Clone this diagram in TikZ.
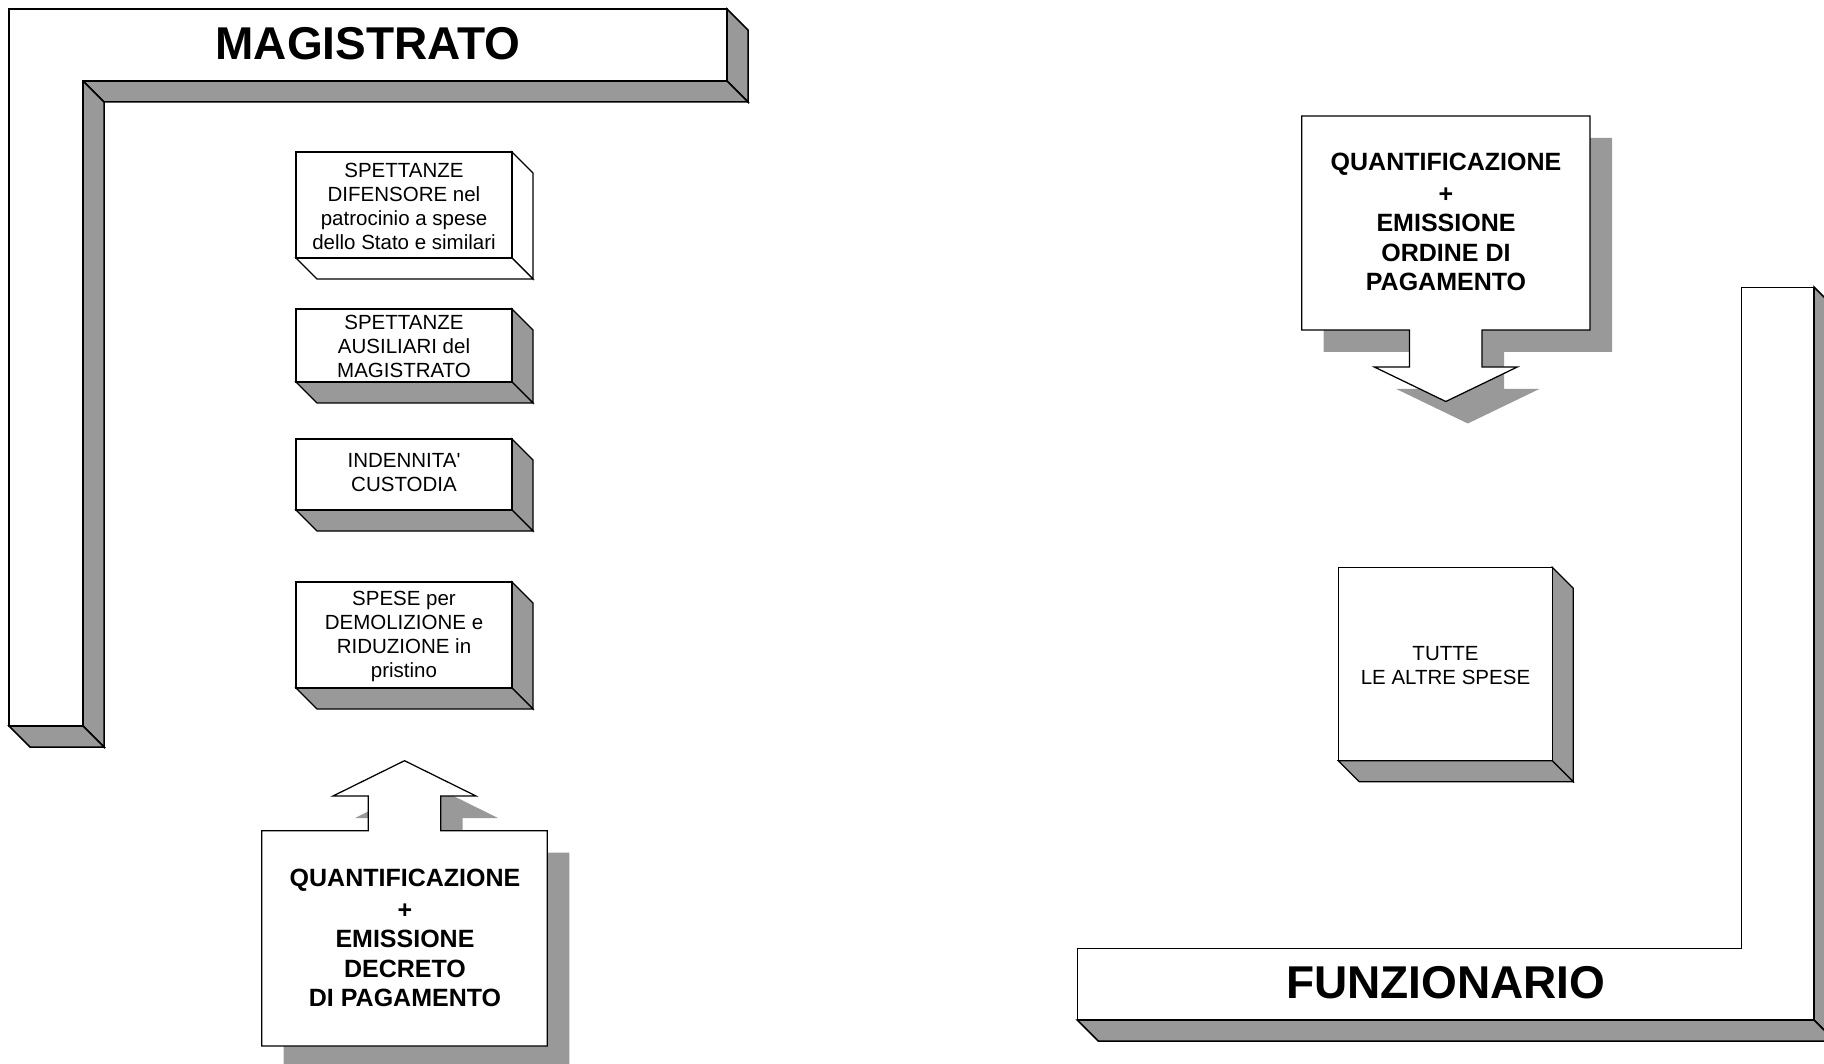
\documentclass[tikz,border=0pt]{standalone}
\usepackage{fontspec}
\setmainfont{Liberation Sans}
% same face without TeX ligature mapping, so ' stays a straight apostrophe
\newfontfamily\rawsans{Liberation Sans}
\definecolor{slabgray}{RGB}{153,153,153}

\tikzset{
  baredge/.style={draw=black, line width=1.5pt, line join=miter},
  boxedge/.style={draw=black, line width=1.25pt, line join=miter},
  boxlabel/.style={align=center, inner sep=0pt, font=\fontsize{20.5}{24}\selectfont},
  calloutlabel/.style={align=center, inner sep=0pt, font=\bfseries\fontsize{25}{29.5}\selectfont},
  titlelabel/.style={inner sep=0pt, font=\bfseries\fontsize{46}{54}\selectfont},
  dropshadow/.style={fill=slabgray, shift={(22,22)}},
}

% 3-D slab: front face (#1,#2)-(#3,#4), depth 21, side faces filled with #5
\newcommand\slabbox[5]{%
  \filldraw[boxedge, fill=#5] (#3,#2) -- (#3+21,#2+21) -- (#3+21,#4+21) -- (#3,#4) -- cycle;
  \filldraw[boxedge, fill=#5] (#1,#4) -- (#3,#4) -- (#3+21,#4+21) -- (#1+21,#4+21) -- cycle;
  \filldraw[boxedge, fill=white] (#1,#2) rectangle (#3,#4);
}

\begin{document}
\begin{tikzpicture}[x=1pt, y=-1pt]
  \useasboundingbox (0,0) rectangle (1824,1064);
  \fill[white] (0,0) rectangle (1824,1064);

  % ---------- MAGISTRATO bracket (top left) ----------
  \filldraw[baredge, fill=slabgray] (727,9) -- (748,30) -- (748,102) -- (727,81) -- cycle;
  \filldraw[baredge, fill=slabgray] (83,81) -- (727,81) -- (748,102) -- (104,102) -- cycle;
  \filldraw[baredge, fill=slabgray] (83,81) -- (104,102) -- (104,747) -- (83,726) -- cycle;
  \filldraw[baredge, fill=slabgray] (9,726) -- (83,726) -- (104,747) -- (30,747) -- cycle;
  \filldraw[baredge, fill=white] (9,9) -- (727,9) -- (727,81) -- (83,81) -- (83,726) -- (9,726) -- cycle;
  \node[titlelabel] (magistrato) at (368,44) {MAGISTRATO};

  % ---------- expense slabs handled by the magistrate ----------
  \slabbox{296}{152}{512}{258}{white}
  \node[boxlabel] (difensore) at (404,206.5) {SPETTANZE\\DIFENSORE nel\\patrocinio a spese\\dello Stato e similari};

  \slabbox{296}{309}{512}{382}{slabgray}
  \node[boxlabel] (ausiliari) at (404,346) {SPETTANZE\\AUSILIARI del\\MAGISTRATO};

  \slabbox{296}{439}{512}{510}{slabgray}
  \node[boxlabel] (custodia) at (404,473) {{\rawsans INDENNITA'}\\CUSTODIA};

  \slabbox{296}{582}{512}{688}{slabgray}
  \node[boxlabel] (demolizione) at (404,636) {SPESE per\\DEMOLIZIONE e\\RIDUZIONE in\\pristino};

  % ---------- decree callout with up arrow (bottom left) ----------
  \fill[dropshadow] (261.7,830.7) -- (368.3,830.7) -- (368.3,796) -- (333,796) -- (404.5,760.7)
    -- (476,796) -- (440.7,796) -- (440.7,830.7) -- (547.3,830.7) -- (547.3,1046) -- (261.7,1046) -- cycle;
  \filldraw[boxedge, fill=white] (261.7,830.7) -- (368.3,830.7) -- (368.3,796) -- (333,796) -- (404.5,760.7)
    -- (476,796) -- (440.7,796) -- (440.7,830.7) -- (547.3,830.7) -- (547.3,1046) -- (261.7,1046) -- cycle;
  \node[calloutlabel] (decreto) at (405,938) {QUANTIFICAZIONE\\[2.5pt]+\\EMISSIONE\\DECRETO\\DI PAGAMENTO};

  % ---------- payment order callout with down arrow (top right) ----------
  \fill[dropshadow] (1301.7,116) -- (1590,116) -- (1590,330) -- (1482,330) -- (1482,367)
    -- (1517.3,367) -- (1445.8,401.5) -- (1374.3,367) -- (1409.5,367) -- (1409.5,330) -- (1301.7,330) -- cycle;
  \filldraw[boxedge, fill=white] (1301.7,116) -- (1590,116) -- (1590,330) -- (1482,330) -- (1482,367)
    -- (1517.3,367) -- (1445.8,401.5) -- (1374.3,367) -- (1409.5,367) -- (1409.5,330) -- (1301.7,330) -- cycle;
  \node[calloutlabel] (ordine) at (1446,222) {QUANTIFICAZIONE\\[2.5pt]+\\EMISSIONE\\ORDINE DI\\PAGAMENTO};

  % ---------- remaining expenses slab ----------
  \slabbox{1338.3}{567.3}{1552.3}{760.7}{slabgray}
  \node[boxlabel] (altrespese) at (1445.5,665.5) {TUTTE\\LE ALTRE SPESE};

  % ---------- FUNZIONARIO bracket (bottom right) ----------
  \filldraw[baredge, fill=slabgray] (1814,287) -- (1835,308) -- (1835,1041) -- (1814,1020) -- cycle;
  \filldraw[baredge, fill=slabgray] (1077.3,1020) -- (1814,1020) -- (1835,1041) -- (1098.3,1041) -- cycle;
  \filldraw[baredge, fill=white] (1741.7,287.3) -- (1814,287.3) -- (1814,1020) -- (1077.3,1020)
    -- (1077.3,948.3) -- (1741.7,948.3) -- cycle;
  \node[titlelabel] (funzionario) at (1445.7,982.5) {FUNZIONARIO};
\end{tikzpicture}
\end{document}
